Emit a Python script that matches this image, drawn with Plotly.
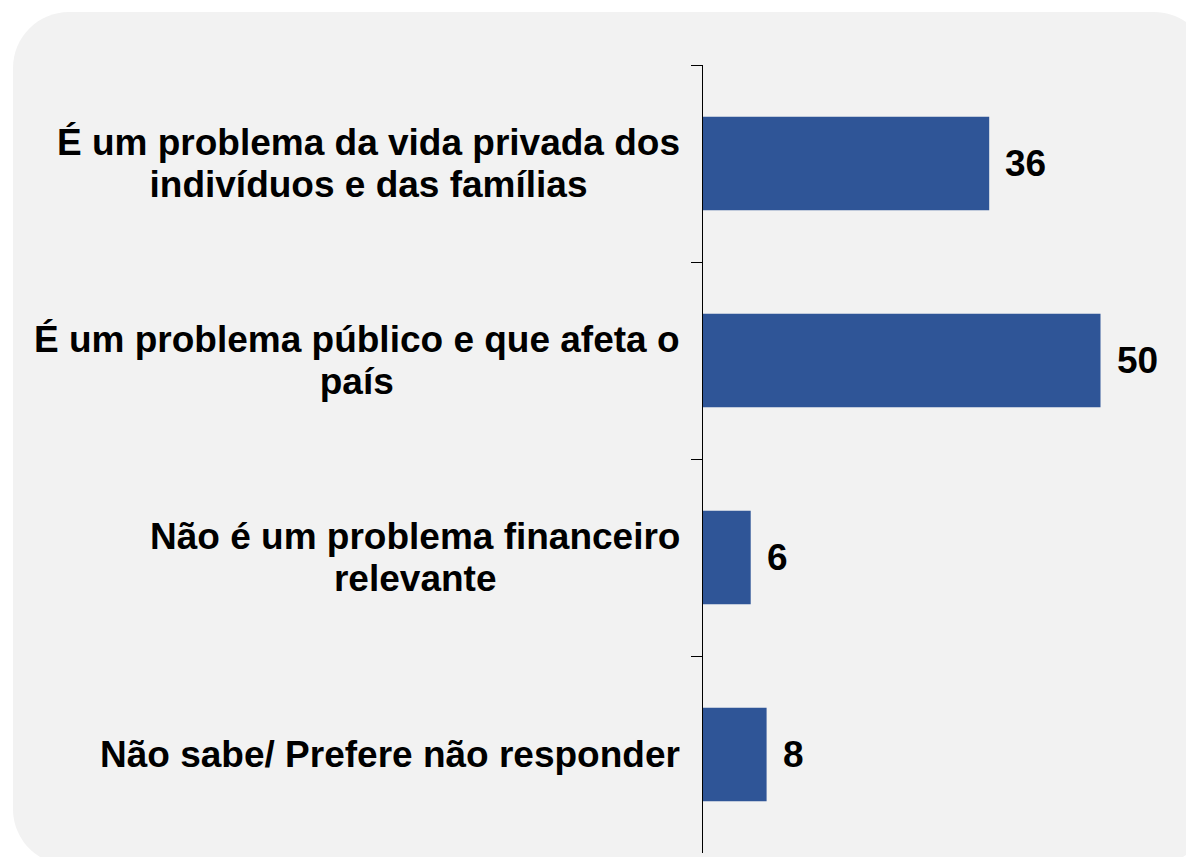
import plotly.graph_objects as go

categories = [
    "É um problema da vida privada dos<br>indivíduos e das famílias",
    "É um problema público e que afeta o<br>país",
    "Não é um problema financeiro<br>relevante",
    "Não sabe/ Prefere não responder",
]
values = [36, 50, 6, 8]

# the page puts the figure 8px in from the top-left corner
OFF = 8
W, H = 1194 - OFF, 857 - OFF
L, R, T, B = 703 - OFF, 14, 65 - OFF, 12 - OFF
FONT = "Liberation Sans, Arial, sans-serif"
FONT_SIZE = 37
BAR_COLOR = "#2f5597"
LINE_GAP = 42


def to_paper(px, py):
    # px, py in window pixels
    px -= OFF
    py -= OFF
    pw = W - L - R
    ph = H - T - B
    return (px - L) / pw, (H - B - py) / ph


def rounded_rect(x0, y0, x1, y1, r):
    k = 0.5523 * r
    pts = [
        ("M", [(x0 + r, y0)]),
        ("L", [(x1 - r, y0)]),
        ("C", [(x1 - r + k, y0), (x1, y0 + r - k), (x1, y0 + r)]),
        ("L", [(x1, y1 - r)]),
        ("C", [(x1, y1 - r + k), (x1 - r + k, y1), (x1 - r, y1)]),
        ("L", [(x0 + r, y1)]),
        ("C", [(x0 + r - k, y1), (x0, y1 - r + k), (x0, y1 - r)]),
        ("L", [(x0, y0 + r)]),
        ("C", [(x0, y0 + r - k), (x0 + r - k, y0), (x0 + r, y0)]),
    ]
    out = []
    for cmd, coords in pts:
        s = " ".join("%.5f,%.5f" % to_paper(px, py) for px, py in coords)
        out.append(cmd + " " + s)
    return " ".join(out) + " Z"


fig = go.Figure()

fig.add_trace(go.Bar(
    x=values,
    y=categories,
    orientation="h",
    width=0.475,
    marker=dict(color=BAR_COLOR, line=dict(width=0)),
    hoverinfo="skip",
))

# category labels: plotly spaces lines at 1.3em of the annotation font, so the
# annotation font is set small for a 42px gap and the glyphs enlarged by a span
for cat in categories:
    lines = cat.split("<br>")
    txt = "<br>".join(
        "<span style='font-size:%dpx'>%s</span>" % (FONT_SIZE, l) for l in lines
    )
    fig.add_annotation(
        x=0, xref="paper", y=cat, yref="y",
        text=txt, showarrow=False, align="center",
        xanchor="right", yanchor="middle", xshift=-21,
        font=dict(family=FONT, size=LINE_GAP / 1.3, color="black", weight="bold"),
    )

# value labels
for cat, v in zip(categories, values):
    fig.add_annotation(
        x=v, xref="x", y=cat, yref="y",
        text=str(v), showarrow=False,
        xanchor="left", yanchor="middle", xshift=14,
        font=dict(family=FONT, size=FONT_SIZE, color="black", weight="bold"),
    )

fig.add_shape(
    type="path", xref="paper", yref="paper",
    path=rounded_rect(13, 12, 1210, 865, 56),
    fillcolor="#f2f2f2", line=dict(width=0), layer="below",
)

fig.update_layout(
    width=W, height=H,
    margin=dict(l=L, r=R, t=T, b=B),
    paper_bgcolor="white",
    plot_bgcolor="rgba(0,0,0,0)",
    showlegend=False,
    xaxis=dict(range=[0, 60], visible=False, fixedrange=True),
    yaxis=dict(
        type="category",
        categoryorder="array", categoryarray=categories,
        range=[3.5, -0.5],
        showline=True, linecolor="black", linewidth=1,
        ticks="outside", tickson="boundaries", ticklen=11,
        tickcolor="black", tickwidth=1,
        showticklabels=False, showgrid=False, zeroline=False,
        fixedrange=True,
    ),
)

fig.write_html("out.html")
